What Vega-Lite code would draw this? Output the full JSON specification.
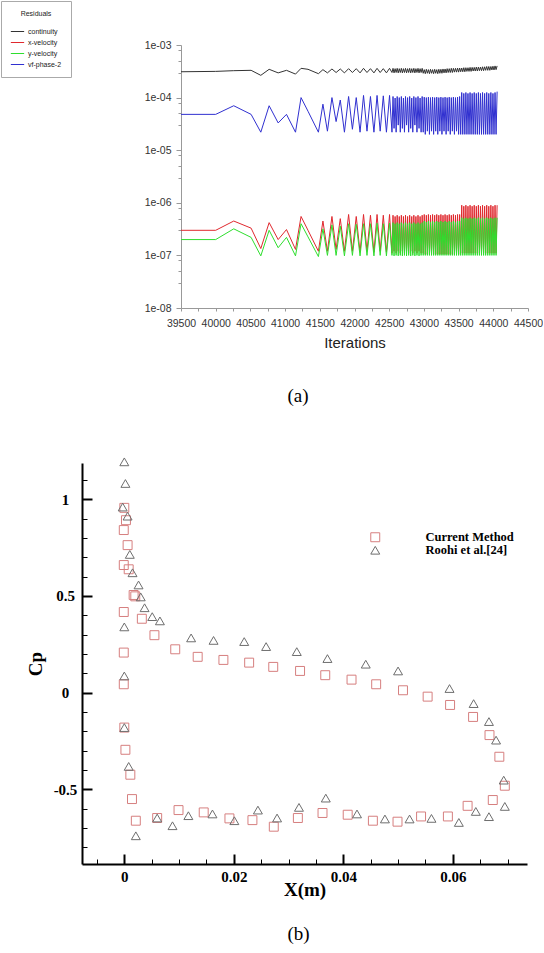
{
  "$schema": "https://vega.github.io/schema/vega-lite/v6.json",
  "background": "white",
  "padding": 0,
  "bounds": "flush",
  "spacing": 155,
  "config": {"view": {"stroke": null}, "axis": {"grid": false}},
  "resolve": {"scale": {"color": "independent", "shape": "independent"}, "legend": {"color": "independent", "shape": "independent"}},
  "vconcat": [
    {
      "width": 446,
      "height": 263,
      "data": {
        "values": "x,continuity,x-velocity,y-velocity,vf-phase-2\n39500,3.1e-4,3.0e-7,2.0e-7,4.8e-5\n40000,3.15e-4,3.0e-7,2.0e-7,4.8e-5\n40260,3.25e-4,4.5e-7,3.2e-7,7.0e-5\n40510,3.3e-4,3.3e-7,2.2e-7,4.8e-5\n40650,2.65e-4,1.35e-7,9.8e-8,2.2e-5\n40770,3.45e-4,4.2e-7,3.0e-7,7.0e-5\n40900,2.95e-4,2.0e-7,1.4e-7,3.3e-5\n41020,3.3e-4,3.1e-7,2.2e-7,4.8e-5\n41150,2.8e-4,1.3e-7,9.8e-8,2.2e-5\n41230,3.6e-4,5.5e-7,4.0e-7,1.0e-4\n41330,3.45e-4,3.0e-7,2.25e-7,5.5e-5\n41480,2.85e-4,1.2e-7,9.5e-8,2.2e-5\n41545,3.4e-4,4.5e-7,3.2e-7,7.5e-5\n41610,2.95e-4,1.2e-7,1.0e-7,2.3e-5\n41675,3.5e-4,5.5e-7,3.8e-7,1.0e-4\n41735,3.0e-4,1.3e-7,1.0e-7,3.5e-5\n41795,3.5e-4,5.0e-7,3.6e-7,9.0e-5\n41855,2.95e-4,1.2e-7,9.8e-8,2.2e-5\n41915,3.55e-4,6.0e-7,4.0e-7,1.05e-4\n41970,3.0e-4,1.2e-7,1.0e-7,2.5e-5\n42025,3.55e-4,5.5e-7,3.9e-7,1.0e-4\n42080,2.95e-4,1.15e-7,9.8e-8,2.2e-5\n42130,3.6e-4,6.0e-7,4.0e-7,1.1e-4\n42180,3.0e-4,1.2e-7,1.0e-7,2.3e-5\n42230,3.55e-4,5.8e-7,4.0e-7,1.05e-4\n42280,2.95e-4,1.15e-7,9.8e-8,2.2e-5\n42325,3.6e-4,6.0e-7,4.1e-7,1.1e-4\n42370,3.0e-4,1.2e-7,1.0e-7,2.3e-5\n42415,3.55e-4,5.8e-7,4.0e-7,1.08e-4\n42460,2.95e-4,1.15e-7,9.8e-8,2.2e-5\n42505,3.6e-4,6.0e-7,4.1e-7,1.1e-4\n42540,3.0e-4,1.1e-7,1.0e-7,2.2e-5\n42555,3.6e-4,5.8e-7,4.2e-7,1.05e-4\n42570,2.95e-4,1.2e-7,9.8e-8,2.6e-5\n42585,3.55e-4,5.5e-7,4.0e-7,9.8e-5\n42600,3.0e-4,1.1e-7,1.0e-7,2.2e-5\n42615,3.6e-4,5.8e-7,4.2e-7,1.05e-4\n42630,2.95e-4,1.2e-7,9.8e-8,3.0e-5\n42645,3.55e-4,5.5e-7,4.0e-7,1.0e-4\n42660,3.0e-4,1.1e-7,1.0e-7,2.2e-5\n42675,3.6e-4,5.8e-7,4.2e-7,1.05e-4\n42690,2.95e-4,1.2e-7,9.8e-8,2.6e-5\n42705,3.55e-4,5.5e-7,4.0e-7,9.8e-5\n42720,3.0e-4,1.1e-7,1.0e-7,2.2e-5\n42735,3.6e-4,5.8e-7,4.2e-7,1.05e-4\n42750,2.95e-4,1.2e-7,9.8e-8,3.0e-5\n42765,3.55e-4,5.5e-7,4.0e-7,1.0e-4\n42780,3.0e-4,1.1e-7,1.0e-7,2.2e-5\n42795,3.6e-4,5.8e-7,4.2e-7,1.05e-4\n42810,2.95e-4,1.2e-7,9.8e-8,2.6e-5\n42825,3.55e-4,5.5e-7,4.0e-7,9.8e-5\n42840,3.0e-4,1.1e-7,1.0e-7,2.2e-5\n42855,3.6e-4,5.8e-7,4.2e-7,1.05e-4\n42870,2.95e-4,1.2e-7,9.8e-8,3.0e-5\n42885,3.55e-4,5.5e-7,4.0e-7,1.0e-4\n42900,3.0e-4,1.1e-7,1.0e-7,2.2e-5\n42915,3.6e-4,5.8e-7,4.2e-7,1.05e-4\n42930,2.95e-4,1.2e-7,9.8e-8,2.6e-5\n42945,3.55e-4,5.5e-7,4.0e-7,9.8e-5\n42960,3.0e-4,1.1e-7,1.0e-7,2.2e-5\n42975,3.6e-4,5.8e-7,4.2e-7,1.05e-4\n42990,2.9e-4,1.1e-7,1.0e-7,2.2e-5\n43005,3.4e-4,6.0e-7,4.5e-7,1.02e-4\n43020,2.85e-4,1.05e-7,1.0e-7,2.0e-5\n43035,3.45e-4,5.8e-7,4.3e-7,1.0e-4\n43050,2.9e-4,1.05e-7,1.0e-7,2.3e-5\n43065,3.4e-4,6.0e-7,4.5e-7,1.02e-4\n43080,2.85e-4,1.05e-7,1.0e-7,2.0e-5\n43095,3.45e-4,5.8e-7,4.3e-7,1.0e-4\n43110,2.9e-4,1.05e-7,1.0e-7,2.3e-5\n43125,3.4e-4,6.0e-7,4.5e-7,1.02e-4\n43140,2.85e-4,1.05e-7,1.0e-7,2.0e-5\n43155,3.45e-4,5.8e-7,4.3e-7,1.0e-4\n43170,2.9e-4,1.05e-7,1.0e-7,2.3e-5\n43185,3.4e-4,6.0e-7,4.5e-7,1.02e-4\n43200,2.85e-4,1.05e-7,1.0e-7,2.0e-5\n43215,3.45e-4,5.8e-7,4.3e-7,1.0e-4\n43230,2.9e-4,1.05e-7,1.0e-7,2.3e-5\n43245,3.45e-4,6.0e-7,4.5e-7,1.02e-4\n43260,2.9e-4,1.05e-7,1.0e-7,2.0e-5\n43275,3.5e-4,5.8e-7,4.3e-7,1.0e-4\n43290,2.95e-4,1.05e-7,1.0e-7,2.3e-5\n43305,3.5e-4,6.0e-7,4.5e-7,1.02e-4\n43320,2.95e-4,1.05e-7,1.0e-7,2.0e-5\n43335,3.55e-4,5.8e-7,4.3e-7,1.0e-4\n43350,3.0e-4,1.05e-7,1.0e-7,2.3e-5\n43365,3.55e-4,6.0e-7,4.5e-7,1.02e-4\n43380,3.0e-4,1.05e-7,1.0e-7,2.0e-5\n43395,3.6e-4,5.8e-7,4.3e-7,1.0e-4\n43410,3.0e-4,1.05e-7,1.0e-7,2.3e-5\n43425,3.6e-4,6.0e-7,4.5e-7,1.02e-4\n43440,3.05e-4,1.05e-7,1.0e-7,2.0e-5\n43455,3.6e-4,5.8e-7,4.3e-7,1.0e-4\n43470,3.05e-4,1.05e-7,1.0e-7,2.3e-5\n43485,3.65e-4,6.0e-7,4.5e-7,1.02e-4\n43500,3.05e-4,1.05e-7,1.0e-7,2.0e-5\n43515,3.65e-4,6.0e-7,4.5e-7,1.05e-4\n43530,3.1e-4,1.1e-7,1.0e-7,2.0e-5\n43545,3.65e-4,9.0e-7,5.2e-7,1.25e-4\n43560,3.1e-4,1.1e-7,1.0e-7,2.0e-5\n43575,3.7e-4,8.6e-7,5.0e-7,1.2e-4\n43590,3.1e-4,1.1e-7,1.0e-7,2.0e-5\n43605,3.7e-4,9.0e-7,5.2e-7,1.25e-4\n43620,3.15e-4,1.1e-7,1.0e-7,2.0e-5\n43635,3.7e-4,8.6e-7,5.0e-7,1.2e-4\n43650,3.15e-4,1.1e-7,1.0e-7,2.0e-5\n43665,3.75e-4,9.0e-7,5.2e-7,1.25e-4\n43680,3.15e-4,1.1e-7,1.0e-7,2.0e-5\n43695,3.75e-4,8.6e-7,5.0e-7,1.2e-4\n43710,3.2e-4,1.1e-7,1.0e-7,2.0e-5\n43725,3.75e-4,9.0e-7,5.2e-7,1.25e-4\n43740,3.2e-4,1.1e-7,1.0e-7,2.0e-5\n43755,3.8e-4,8.6e-7,5.0e-7,1.2e-4\n43770,3.2e-4,1.1e-7,1.0e-7,2.0e-5\n43785,3.8e-4,9.0e-7,5.2e-7,1.25e-4\n43800,3.25e-4,1.1e-7,1.0e-7,2.0e-5\n43815,3.8e-4,8.6e-7,5.0e-7,1.2e-4\n43830,3.25e-4,1.1e-7,1.0e-7,2.0e-5\n43845,3.85e-4,9.0e-7,5.2e-7,1.25e-4\n43860,3.25e-4,1.1e-7,1.0e-7,2.0e-5\n43875,3.85e-4,8.6e-7,5.0e-7,1.2e-4\n43890,3.3e-4,1.1e-7,1.0e-7,2.0e-5\n43905,3.9e-4,9.0e-7,5.2e-7,1.25e-4\n43920,3.3e-4,1.1e-7,1.0e-7,2.0e-5\n43935,3.9e-4,8.6e-7,5.0e-7,1.2e-4\n43950,3.3e-4,1.1e-7,1.0e-7,2.0e-5\n43965,3.9e-4,9.0e-7,5.2e-7,1.25e-4\n43980,3.35e-4,1.1e-7,1.0e-7,2.0e-5\n43995,3.95e-4,8.6e-7,5.0e-7,1.2e-4\n44010,3.35e-4,1.1e-7,1.0e-7,2.0e-5\n44025,4.0e-4,9.0e-7,5.2e-7,1.25e-4\n44040,3.4e-4,1.1e-7,1.0e-7,2.0e-5\n44055,4.0e-4,9.0e-7,5.2e-7,1.3e-4",
        "format": {"type": "csv", "parse": {"x": "number", "continuity": "number", "x-velocity": "number", "y-velocity": "number", "vf-phase-2": "number"}}
      },
      "transform": [
        {"fold": ["continuity", "x-velocity", "y-velocity", "vf-phase-2"], "as": ["series", "value"]}
      ],
      "layer": [
        {
          "mark": {"type": "line", "strokeWidth": 1, "clip": false},
          "encoding": {
            "x": {
              "field": "x", "type": "quantitative",
              "scale": {"domain": [39500, 44500], "range": [99, 446], "nice": false, "zero": false},
              "axis": {
                "orient": "bottom",
                "values": [39500, 40000, 40500, 41000, 41500, 42000, 42500, 43000, 43500, 44000, 44500],
                "format": "d",
                "title": "Iterations",
                "titleFont": "Liberation Sans", "titleFontSize": 15, "titleFontWeight": "normal", "titleColor": "#222",
                "titlePadding": 7,
                "labelFont": "Liberation Sans", "labelFontSize": 10.5, "labelColor": "#333",
                "labelPadding": 7, "labelFlush": false, "labelOverlap": false,
                "tickSize": 3, "tickColor": "#999", "domainColor": "#999"
              }
            },
            "y": {
              "field": "value", "type": "quantitative",
              "scale": {"type": "log", "domain": [1e-8, 1e-3], "nice": false},
              "axis": {
                "orient": "left",
                "values": [1e-8, 1e-7, 1e-6, 1e-5, 1e-4, 1e-3],
                "offset": -99,
                "title": null,
                "labelExpr": "replace(format(datum.value, '.0e'), 'e-', 'e-0')",
                "labelFont": "Liberation Sans", "labelFontSize": 10.5, "labelColor": "#333",
                "labelPadding": 5, "tickSize": 5, "tickColor": "#999", "domainColor": "#999"
              }
            },
            "color": {
              "field": "series", "type": "nominal",
              "scale": {"domain": ["continuity", "x-velocity", "y-velocity", "vf-phase-2"], "range": ["#333333", "#e0282e", "#2ede2e", "#3030d0"]},
              "legend": {
                "orient": "none", "legendX": -81, "legendY": -44,
                "title": "Residuals",
                "titleFont": "Liberation Sans", "titleFontSize": 7, "titleFontWeight": "normal", "titleColor": "#222",
                "titleAnchor": "middle", "titlePadding": 7,
                "labelFont": "Liberation Sans", "labelFontSize": 7, "labelColor": "#222",
                "symbolType": "stroke", "symbolSize": 177, "symbolStrokeWidth": 1,
                "labelOffset": 3, "rowPadding": 0, "padding": 9,
                "strokeColor": "#aaaaaa", "fillColor": "white"
              }
            }
          }
        },
        {
          "transform": [{"filter": "false"}],
          "mark": {"type": "line", "strokeWidth": 1, "clip": false},
          "encoding": {
            "x": {
              "field": "x", "type": "quantitative",
              "scale": {"domain": [39500, 44500], "range": [99, 446], "nice": false, "zero": false},
              "axis": {
                "orient": "bottom",
                "values": [39750, 40250, 40750, 41250, 41750, 42250, 42750, 43250, 43750, 44250],
                "labels": false, "domain": false, "title": null,
                "tickSize": 3, "tickColor": "#999"
              }
            },
            "y": {
              "field": "value", "type": "quantitative",
              "scale": {"type": "log", "domain": [1e-8, 1e-3], "nice": false},
              "axis": {
                "orient": "left",
                "offset": -99,
                "values": [3e-8, 5e-8, 8e-8, 3e-7, 5e-7, 8e-7, 3e-6, 5e-6, 8e-6, 3e-5, 5e-5, 8e-5, 3e-4, 5e-4, 8e-4],
                "labels": false, "domain": false, "title": null,
                "tickSize": 3, "tickColor": "#999"
              }
            }
          }
        }
      ],
      "resolve": {"axis": {"x": "independent", "y": "independent"}},
      "title": {"text": "(a)", "orient": "bottom", "anchor": "middle", "frame": "group", "font": "Liberation Serif", "fontSize": 19, "fontWeight": "normal", "color": "black", "offset": 36, "dx": -7}
    },
    {
      "width": 445,
      "height": 401,
      "data": {
        "values": "src,X,Cp\nCurrent Method,0,0.956\nCurrent Method,0.0003,0.892\nCurrent Method,-0.0001,0.841\nCurrent Method,0.0006,0.763\nCurrent Method,-0.0001,0.660\nCurrent Method,0.0008,0.638\nCurrent Method,0.0017,0.505\nCurrent Method,0.0020,0.498\nCurrent Method,-0.0001,0.417\nCurrent Method,0.0032,0.382\nCurrent Method,0.0055,0.297\nCurrent Method,-0.0001,0.207\nCurrent Method,0.0093,0.224\nCurrent Method,0.0134,0.185\nCurrent Method,0.0181,0.169\nCurrent Method,0.0228,0.155\nCurrent Method,0.0272,0.133\nCurrent Method,0.0321,0.112\nCurrent Method,0.0367,0.090\nCurrent Method,0.0415,0.067\nCurrent Method,0.0460,0.043\nCurrent Method,0.0509,0.012\nCurrent Method,0.0554,-0.021\nCurrent Method,0.0595,-0.064\nCurrent Method,0.0637,-0.126\nCurrent Method,0.0667,-0.220\nCurrent Method,0.0685,-0.332\nCurrent Method,0.0695,-0.482\nCurrent Method,0.0673,-0.556\nCurrent Method,0.0627,-0.586\nCurrent Method,0.0591,-0.641\nCurrent Method,0.0542,-0.641\nCurrent Method,0.0499,-0.668\nCurrent Method,0.0454,-0.663\nCurrent Method,0.0408,-0.632\nCurrent Method,0.0362,-0.623\nCurrent Method,0.0317,-0.649\nCurrent Method,0.0273,-0.694\nCurrent Method,0.0234,-0.660\nCurrent Method,0.0192,-0.651\nCurrent Method,0.0145,-0.620\nCurrent Method,0.0099,-0.608\nCurrent Method,0.0060,-0.649\nCurrent Method,0.0021,-0.663\nCurrent Method,0.0014,-0.551\nCurrent Method,0.0011,-0.425\nCurrent Method,0.0002,-0.296\nCurrent Method,0,-0.181\nCurrent Method,-0.0001,0.043\nRoohi et al.[24],0,1.194\nRoohi et al.[24],0.0002,1.082\nRoohi et al.[24],-0.0003,0.960\nRoohi et al.[24],0.0006,0.913\nRoohi et al.[24],0.0010,0.715\nRoohi et al.[24],0.0015,0.620\nRoohi et al.[24],0.0026,0.557\nRoohi et al.[24],0.0030,0.495\nRoohi et al.[24],0.0037,0.439\nRoohi et al.[24],0.0051,0.393\nRoohi et al.[24],0.0065,0.371\nRoohi et al.[24],0,0.340\nRoohi et al.[24],0.0122,0.283\nRoohi et al.[24],0.0163,0.270\nRoohi et al.[24],0.0219,0.264\nRoohi et al.[24],0.0259,0.238\nRoohi et al.[24],0.0315,0.212\nRoohi et al.[24],0.0371,0.176\nRoohi et al.[24],0.0441,0.147\nRoohi et al.[24],0.0500,0.112\nRoohi et al.[24],0.0594,0.021\nRoohi et al.[24],0.0638,-0.057\nRoohi et al.[24],0.0666,-0.150\nRoohi et al.[24],0.0679,-0.246\nRoohi et al.[24],0.0693,-0.453\nRoohi et al.[24],0.0695,-0.589\nRoohi et al.[24],0.0666,-0.642\nRoohi et al.[24],0.0642,-0.615\nRoohi et al.[24],0.0611,-0.672\nRoohi et al.[24],0.0561,-0.651\nRoohi et al.[24],0.0521,-0.654\nRoohi et al.[24],0.0476,-0.654\nRoohi et al.[24],0.0425,-0.628\nRoohi et al.[24],0.0368,-0.546\nRoohi et al.[24],0.0319,-0.594\nRoohi et al.[24],0.0279,-0.649\nRoohi et al.[24],0.0244,-0.608\nRoohi et al.[24],0.0201,-0.663\nRoohi et al.[24],0.0161,-0.628\nRoohi et al.[24],0.0117,-0.637\nRoohi et al.[24],0.0088,-0.689\nRoohi et al.[24],0.0060,-0.649\nRoohi et al.[24],0.0021,-0.741\nRoohi et al.[24],0.0008,-0.382\nRoohi et al.[24],0,-0.181\nRoohi et al.[24],0,0.086",
        "format": {"type": "csv", "parse": {"X": "number", "Cp": "number"}}
      },
      "layer": [
        {
          "transform": [{"filter": "datum.src == 'Current Method'"}],
          "mark": {"type": "point", "filled": false, "strokeWidth": 1, "size": 80, "opacity": 1, "clip": false},
          "encoding": {
            "x": {
              "field": "X", "type": "quantitative",
              "scale": {"domain": [-0.00773, 0.07355], "nice": false, "zero": false},
              "axis": {
                "orient": "bottom",
                "values": [0, 0.02, 0.04, 0.06],
                "labelExpr": "'' + datum.value",
                "title": "X(m)",
                "titleFont": "Liberation Serif", "titleFontWeight": "bold", "titleFontSize": 19, "titleColor": "black", "titlePadding": -4,
                "labelFont": "Liberation Serif", "labelFontWeight": "bold", "labelFontSize": 15, "labelColor": "black",
                "labelPadding": 5, "labelFlush": false, "labelOverlap": false,
                "ticks": false,
                "domainColor": "black", "domainWidth": 2
              }
            },
            "y": {
              "field": "Cp", "type": "quantitative",
              "scale": {"domain": [-0.887, 1.188], "nice": false, "zero": false},
              "axis": {
                "orient": "left",
                "values": [-0.5, 0, 0.5, 1],
                "labelExpr": "'' + datum.value",
                "title": "Cp",
                "titleFont": "Liberation Serif", "titleFontWeight": "bold", "titleFontSize": 19, "titleColor": "black", "titlePadding": 8,
                "labelFont": "Liberation Serif", "labelFontWeight": "bold", "labelFontSize": 15, "labelColor": "black",
                "labelAlign": "center",
                "labelPadding": 17, "labelFlush": false, "labelOverlap": false,
                "ticks": false,
                "domainColor": "black", "domainWidth": 2
              }
            },
            "shape": {
              "field": "src", "type": "nominal",
              "scale": {"domain": ["Current Method", "Roohi et al.[24]"], "range": ["square", "triangle-up"]},
              "legend": {"orient": "none", "legendX": 287, "legendY": 68, "title": null, "labelFont": "Liberation Serif", "labelFontWeight": "bold", "labelFontSize": 12.5, "labelColor": "black", "labelOffset": 44, "rowPadding": 0, "padding": 0, "symbolStrokeWidth": 1, "symbolSize": 80}
            },
            "color": {
              "field": "src", "type": "nominal",
              "scale": {"domain": ["Current Method", "Roohi et al.[24]"], "range": ["#d67f7f", "#6e6e6e"]},
              "legend": {"orient": "none", "legendX": 287, "legendY": 68, "title": null, "labelFont": "Liberation Serif", "labelFontWeight": "bold", "labelFontSize": 12.5, "labelColor": "black", "labelOffset": 44, "rowPadding": 0, "padding": 0, "symbolStrokeWidth": 1, "symbolSize": 80}
            }
          }
        },
        {
          "transform": [{"filter": "datum.src != 'Current Method'"}],
          "mark": {"type": "point", "filled": false, "strokeWidth": 1, "size": 80, "opacity": 1, "clip": false},
          "encoding": {
            "x": {
              "field": "X", "type": "quantitative",
              "scale": {"domain": [-0.00773, 0.07355], "nice": false, "zero": false},
              "axis": {
                "orient": "bottom",
                "values": [-0.005, 0, 0.005, 0.01, 0.015, 0.02, 0.025, 0.03, 0.035, 0.04, 0.045, 0.05, 0.055, 0.06, 0.065, 0.07],
                "labels": false, "domain": false, "title": null,
                "tickColor": "black",
                "tickSize": {"condition": {"test": "abs(datum.value*50 - round(datum.value*50)) < 1e-6", "value": -10}, "value": -5},
                "tickWidth": {"condition": {"test": "abs(datum.value*50 - round(datum.value*50)) < 1e-6", "value": 2}, "value": 1}
              }
            },
            "y": {
              "field": "Cp", "type": "quantitative",
              "scale": {"domain": [-0.887, 1.188], "nice": false, "zero": false},
              "axis": {
                "orient": "left",
                "values": [-0.8, -0.7, -0.6, -0.5, -0.4, -0.3, -0.2, -0.1, 0, 0.1, 0.2, 0.3, 0.4, 0.5, 0.6, 0.7, 0.8, 0.9, 1, 1.1],
                "labels": false, "domain": false, "title": null,
                "tickColor": "black",
                "tickSize": {"condition": {"test": "abs(datum.value*2 - round(datum.value*2)) < 1e-6", "value": -10}, "value": -5},
                "tickWidth": {"condition": {"test": "abs(datum.value*2 - round(datum.value*2)) < 1e-6", "value": 2}, "value": 1}
              }
            },
            "shape": {
              "field": "src", "type": "nominal",
              "scale": {"domain": ["Current Method", "Roohi et al.[24]"], "range": ["square", "triangle-up"]},
              "legend": {"orient": "none", "legendX": 287, "legendY": 68, "title": null, "labelFont": "Liberation Serif", "labelFontWeight": "bold", "labelFontSize": 12.5, "labelColor": "black", "labelOffset": 44, "rowPadding": 0, "padding": 0, "symbolStrokeWidth": 1, "symbolSize": 80}
            },
            "color": {
              "field": "src", "type": "nominal",
              "scale": {"domain": ["Current Method", "Roohi et al.[24]"], "range": ["#d67f7f", "#6e6e6e"]},
              "legend": {"orient": "none", "legendX": 287, "legendY": 68, "title": null, "labelFont": "Liberation Serif", "labelFontWeight": "bold", "labelFontSize": 12.5, "labelColor": "black", "labelOffset": 44, "rowPadding": 0, "padding": 0, "symbolStrokeWidth": 1, "symbolSize": 80}
            }
          }
        }
      ],
      "resolve": {"axis": {"x": "independent", "y": "independent"}},
      "title": {"text": "(b)", "orient": "bottom", "anchor": "middle", "frame": "group", "font": "Liberation Serif", "fontSize": 19, "fontWeight": "normal", "color": "black", "offset": 26, "dx": -6}
    }
  ]
}
